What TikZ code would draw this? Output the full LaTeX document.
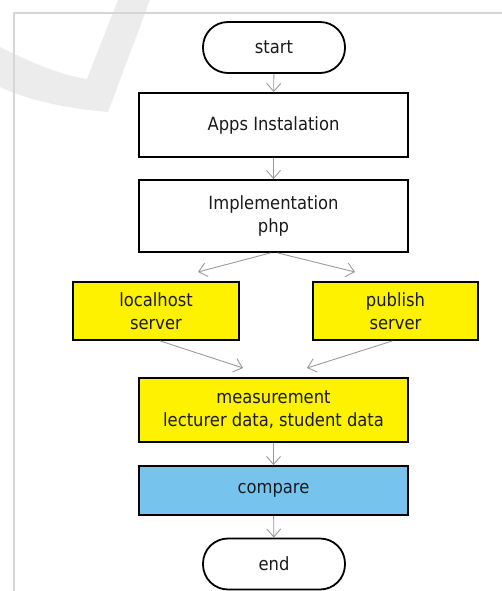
\documentclass[tikz,border=0pt]{standalone}
\usepackage{fontspec}
\setmainfont{DejaVu Sans Condensed}
\usetikzlibrary{arrows.meta}
\definecolor{boxyellow}{HTML}{FFF200}
\definecolor{boxblue}{HTML}{76C4EE}
\definecolor{arrowgray}{HTML}{9A9A9A}
\definecolor{framegray}{HTML}{D6D6D6}
\definecolor{markgray}{HTML}{ECECEC}
\definecolor{textcol}{HTML}{1A1A1A}
\tikzset{
  base/.style={draw=black, line width=1.8pt, inner sep=0pt, align=center,
    font=\fontsize{18.2}{23}\selectfont, text=textcol},
  terminal/.style={base, minimum width=142pt, minimum height=51pt, rounded corners=25pt},
  process/.style={base, minimum width=269pt},
  yellowbox/.style={base, fill=boxyellow},
  bluebox/.style={base, fill=boxblue},
  arr/.style={draw=arrowgray, line width=0.9pt, -{Straight Barb[length=8pt,width=14pt,line width=0.9pt]}},
}
\begin{document}
\begin{tikzpicture}[x=1pt,y=-1pt]
\useasboundingbox (0,0) rectangle (502,591);
% watermark check mark
\fill[markgray] (0,47) .. controls (30,62) and (60,75) .. (87,79) -- (118,0) -- (150,0)
  -- (108,112) .. controls (70,109) and (30,101) .. (0,87) -- cycle;
% frame
\draw[framegray, line width=1.5pt] (14,591) -- (14,13) -- (502,13);
% nodes
\node[terminal] (start) at (274,47.5) {start};
\node[process, minimum height=64pt] (apps) at (273.5,125) {Apps Instalation};
\node[process, minimum height=72pt] (impl) at (273.5,216) {Implementation\\php};
\node[yellowbox, minimum width=166pt, minimum height=58pt] (local) at (156,311) {localhost\\server};
\node[yellowbox, minimum width=165pt, minimum height=58pt] (pub) at (395.5,311) {publish\\server};
\node[yellowbox, process, minimum height=64pt] (meas) at (273.5,410) {measurement\\lecturer data, student data};
\node[bluebox, process, minimum height=49pt] (comp) at (273.5,490.5) {compare};
\node[terminal] (end) at (274,564) {end};
% free arrow ends
\coordinate (l1) at (198,272);
\coordinate (p1) at (355,272);
\coordinate (m1) at (243,368);
\coordinate (m2) at (307,368);
% connectors
\draw[arr] (start) -- (apps);
\draw[arr] (apps) -- (impl);
\draw[arr] ([xshift=-3pt]impl.south) -- (l1);
\draw[arr] ([xshift=4pt]impl.south) -- (p1);
\draw[arr] ([xshift=4pt]local.south) -- (m1);
\draw[arr] ([xshift=-3pt]pub.south) -- (m2);
\draw[arr] (meas) -- (comp);
\draw[arr] (comp) -- (end);
\end{tikzpicture}
\end{document}
